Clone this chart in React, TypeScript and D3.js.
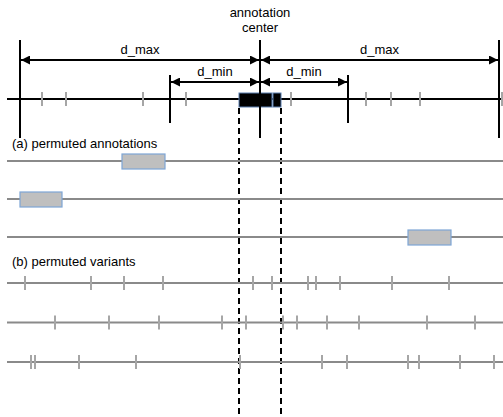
import { useRef, useEffect } from 'react';
import * as d3 from 'd3';

// positions along the genome axis (px-like units)
const centerPos = 260;
const dMin = [170, 348];
const dMax = [20, 499];
const annotationBox = [239, 281];
const annotationSplit = 272;
const mainVariants = [42, 66, 143, 186, 291, 366, 391, 420, 502];

// (a) permuted annotations: start/end of each box
const permutedAnnotations = [
  [122, 165],
  [20, 62],
  [408, 451],
];

// (b) permuted variants
const permutedVariants = [
  [25, 91, 124, 163, 253, 272, 308, 316, 340, 392, 449],
  [55, 109, 159, 222, 246, 283, 297, 327, 359, 427, 475],
  [31, 35, 79, 136, 240, 322, 347, 408, 419, 460, 494],
];

const labels = ['d_max', 'd_min'];
const titleLines = ['annotation', 'center'];
const sectionLabels = ['(a) permuted annotations', '(b) permuted variants'];

export default function App() {
  const ref = useRef(null);

  useEffect(() => {
    const width = 503;
    const height = 417;
    const svg = d3.select(ref.current)
      .attr('width', width)
      .attr('height', height);
    svg.selectAll('*').remove();

    const x = d3.scaleLinear().domain([0, 503]).range([0, 503]);
    const font = "'Liberation Sans', Arial, sans-serif";
    const grey = '#a6a6a6';
    const lineGrey = '#8a8a8a';

    const defs = svg.append('defs');
    defs.append('marker')
      .attr('id', 'arrowEnd')
      .attr('viewBox', '0 0 10 10')
      .attr('refX', 10).attr('refY', 5)
      .attr('markerWidth', 4.5).attr('markerHeight', 4.5)
      .attr('orient', 'auto-start-reverse')
      .append('path').attr('d', 'M0,0 L10,5 L0,10 z').attr('fill', '#000');

    const mainY = 99;

    // dashed guides from annotation edges
    annotationBox.forEach(p => {
      svg.append('line')
        .attr('x1', x(p)).attr('x2', x(p))
        .attr('y1', 108).attr('y2', height)
        .attr('stroke', '#000').attr('stroke-width', 2)
        .attr('stroke-dasharray', '6,4');
    });

    // main axis
    svg.append('line')
      .attr('x1', 7).attr('x2', width).attr('y1', mainY).attr('y2', mainY)
      .attr('stroke', '#000').attr('stroke-width', 2);

    svg.selectAll('line.mv')
      .data(mainVariants)
      .join('line')
      .attr('class', 'mv')
      .attr('x1', d => x(d)).attr('x2', d => x(d))
      .attr('y1', mainY - 7).attr('y2', mainY + 7)
      .attr('stroke', grey).attr('stroke-width', 2);

    // boundary lines
    dMax.forEach(p => {
      svg.append('line')
        .attr('x1', x(p)).attr('x2', x(p)).attr('y1', 40).attr('y2', 138)
        .attr('stroke', '#000').attr('stroke-width', 2);
    });
    dMin.forEach(p => {
      svg.append('line')
        .attr('x1', x(p)).attr('x2', x(p)).attr('y1', 75).attr('y2', 123)
        .attr('stroke', '#000').attr('stroke-width', 2);
    });

    // annotation box
    svg.append('rect')
      .attr('x', x(annotationBox[0])).attr('y', 93)
      .attr('width', x(annotationSplit) - x(annotationBox[0])).attr('height', 14)
      .attr('fill', '#000').attr('stroke', '#5b7fb0').attr('stroke-width', 1);
    svg.append('rect')
      .attr('x', x(annotationSplit) + 1).attr('y', 93)
      .attr('width', x(annotationBox[1]) - x(annotationSplit) - 1).attr('height', 14)
      .attr('fill', '#000').attr('stroke', '#5b7fb0').attr('stroke-width', 1);

    // center line
    svg.append('line')
      .attr('x1', x(centerPos)).attr('x2', x(centerPos)).attr('y1', 40).attr('y2', 138)
      .attr('stroke', '#000').attr('stroke-width', 2);

    // distance arrows
    const arrows = [
      { a: dMax[0], b: centerPos, y: 60, label: labels[0] },
      { a: centerPos, b: dMax[1], y: 60, label: labels[0] },
      { a: dMin[0], b: centerPos, y: 82, label: labels[1] },
      { a: centerPos, b: dMin[1], y: 82, label: labels[1] },
    ];
    arrows.forEach(d => {
      svg.append('line')
        .attr('x1', x(d.a) + 1).attr('x2', x(d.b) - 1)
        .attr('y1', d.y).attr('y2', d.y)
        .attr('stroke', '#000').attr('stroke-width', 2)
        .attr('marker-start', 'url(#arrowEnd)')
        .attr('marker-end', 'url(#arrowEnd)');
      svg.append('text')
        .attr('x', (x(d.a) + x(d.b)) / 2).attr('y', d.y - 6)
        .attr('text-anchor', 'middle')
        .attr('font-family', font).attr('font-size', 13)
        .text(d.label);
    });

    titleLines.forEach((t, i) => {
      svg.append('text')
        .attr('x', x(centerPos)).attr('y', 17 + i * 15)
        .attr('text-anchor', 'middle')
        .attr('font-family', font).attr('font-size', 13)
        .text(t);
    });

    // (a) permuted annotations
    svg.append('text')
      .attr('x', 12).attr('y', 148)
      .attr('font-family', font).attr('font-size', 13)
      .text(sectionLabels[0]);

    const annY = d3.scalePoint().domain(d3.range(permutedAnnotations.length)).range([161, 237]);
    permutedAnnotations.forEach((box, i) => {
      const y = annY(i);
      svg.append('line')
        .attr('x1', 7).attr('x2', width).attr('y1', y).attr('y2', y)
        .attr('stroke', lineGrey).attr('stroke-width', 2);
      svg.append('rect')
        .attr('x', x(box[0])).attr('y', y - 7)
        .attr('width', x(box[1]) - x(box[0])).attr('height', 15)
        .attr('fill', '#bfbfbf').attr('stroke', '#7ea6d6').attr('stroke-width', 1.2);
    });

    // (b) permuted variants
    svg.append('text')
      .attr('x', 12).attr('y', 266)
      .attr('font-family', font).attr('font-size', 13)
      .text(sectionLabels[1]);

    const varY = d3.scalePoint().domain(d3.range(permutedVariants.length)).range([283, 362]);
    permutedVariants.forEach((row, i) => {
      const y = varY(i);
      svg.append('line')
        .attr('x1', 7).attr('x2', width).attr('y1', y).attr('y2', y)
        .attr('stroke', lineGrey).attr('stroke-width', 2);
      svg.selectAll(`line.pv${i}`)
        .data(row)
        .join('line')
        .attr('class', `pv${i}`)
        .attr('x1', d => x(d)).attr('x2', d => x(d))
        .attr('y1', y - 7).attr('y2', y + 7)
        .attr('stroke', grey).attr('stroke-width', 2);
    });
  }, []);

  return <svg ref={ref} style={{ position: 'absolute', left: 0, top: 0, display: 'block', background: '#fff' }}></svg>;
}
